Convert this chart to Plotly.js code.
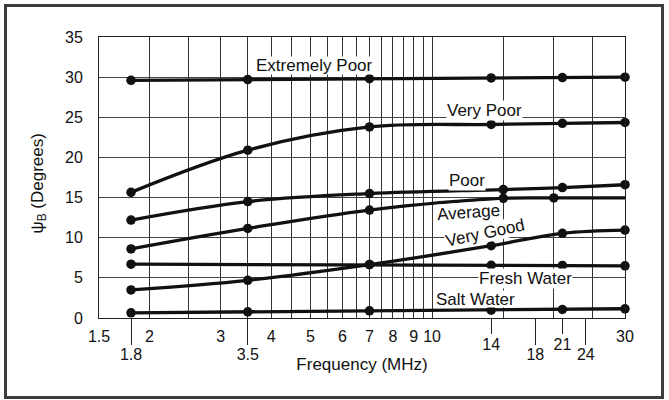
<!DOCTYPE html>
<html>
<head>
<meta charset="utf-8">
<script src="https://cdn.plot.ly/plotly-3.0.1.min.js"></script>
<style>
  html, body { margin: 0; padding: 0; background: #fff; }
  #chart { position: absolute; left: 0; top: 0; width: 669px; height: 400px; }
  #frame { position: absolute; left: 4px; top: 4px; width: 660px; height: 395px;
           border: 3px solid #3c3c3c; box-sizing: border-box; pointer-events: none; }
</style>
</head>
<body>
<div id="chart"></div>
<div id="frame"></div>
<script>
// ---- data ----
const freq          = [1.8, 3.5, 7, 14, 21, 30];
const extremelyPoor = [29.6, 29.7, 29.8, 29.9, 29.95, 30.0];
const veryPoor      = [15.65, 20.9, 23.8, 24.1, 24.25, 24.35];
const poorFreq      = [1.8, 3.5, 7, 15, 21, 30];
const poor          = [12.2, 14.5, 15.5, 16.0, 16.25, 16.6];
const averageFreq   = [1.8, 3.5, 7, 15, 20, 30];
const average       = [8.6, 11.15, 13.45, 14.9, 14.95, 14.95];
const veryGood      = [3.5, 4.7, 6.65, 9.0, 10.55, 10.95];
const freshFreq     = [1.8, 7, 14, 21, 30];
const freshWater    = [6.7, 6.65, 6.57, 6.55, 6.5];
const saltWater     = [0.65, 0.77, 0.9, 0.98, 1.06, 1.15];

const gridFreqs   = [2, 2.5, 3, 3.5, 4, 4.5, 5, 5.5, 6, 6.5, 7, 7.5, 8, 8.5, 9, 9.5, 10, 15, 20, 25];
const row1Ticks   = [1.5, 2, 3, 4, 5, 6, 7, 8, 9, 10, 30];
const row2Ticks   = [14, 21];
const row3Ticks   = [1.8, 3.5, 18, 24];
const yTicks      = [0, 5, 10, 15, 20, 25, 30, 35];

const curveLabels = ['Extremely Poor', 'Very Poor', 'Poor', 'Average', 'Very Good', 'Fresh Water', 'Salt Water'];
const yTitle = 'ψ<sub>B</sub> (Degrees)';
const xTitle = 'Frequency (MHz)';

// ---- styling ----
const FONT = 'Liberation Sans, Arial, Helvetica, sans-serif';
const INK = '#111';
const xr = [Math.log10(1.5), Math.log10(30)];

function curve(x, y, shape, sizes) {
  return {
    x: x, y: y, type: 'scatter', mode: 'lines+markers',
    line: { color: INK, width: 3.3, shape: shape || 'linear', smoothing: 1 },
    marker: { color: INK, size: sizes || 9.5, opacity: 1, line: { width: 0 } },
    hoverinfo: 'skip', showlegend: false, xaxis: 'x', yaxis: 'y', cliponaxis: false
  };
}

const traces = [
  curve(freq, extremelyPoor),
  curve(freq, veryPoor, 'spline'),
  curve(poorFreq, poor, 'spline'),
  curve(averageFreq, average, 'spline', averageFreq.map((f, i) => i === averageFreq.length - 1 ? 0 : 9.5)),
  curve(freq, veryGood, 'spline'),
  curve(freshFreq, freshWater),
  curve(freq, saltWater),
  { x: [], y: [], type: 'scatter', xaxis: 'x2', yaxis: 'y', showlegend: false },
  { x: [], y: [], type: 'scatter', xaxis: 'x3', yaxis: 'y', showlegend: false },
  { x: [], y: [], type: 'scatter', xaxis: 'x4', yaxis: 'y', showlegend: false }
];

const tickFont = { family: FONT, size: 16, color: '#111' };

function labelAxis(vals, len, standoff) {
  return {
    type: 'log', range: xr, overlaying: 'x', anchor: 'y', side: 'bottom',
    tickmode: 'array', tickvals: vals, ticktext: vals.map(String),
    ticks: len > 0 ? 'outside' : '', ticklen: len, tickwidth: 1, tickcolor: '#222',
    showgrid: false, zeroline: false, showline: false,
    tickfont: tickFont, ticklabelstandoff: standoff, fixedrange: true
  };
}

// label positions (paper fractions of plot area) and angle, box height
const labelPos = [
  [0.4106, 0.898, 0, 17],
  [0.732, 0.737, 0, null],
  [0.6996, 0.491, 0, null],
  [0.7029, 0.377, -4, null],
  [0.7338, 0.3025, -12, 18],
  [0.8099, 0.142, 0, null],
  [0.7158, 0.066, 0, 16]
];

const annotations = curveLabels.map((t, i) => {
  const a = {
    text: t, xref: 'paper', yref: 'paper', x: labelPos[i][0], y: labelPos[i][1],
    xanchor: 'center', yanchor: 'middle', showarrow: false, textangle: labelPos[i][2],
    font: { family: FONT, size: 17, color: '#111' }, bgcolor: '#fff', borderpad: 0
  };
  if (labelPos[i][3]) a.height = labelPos[i][3];
  return a;
});

// y-axis title, placed in the left margin
annotations.push({
  text: yTitle, xref: 'paper', yref: 'paper', x: -0.115, y: 0.477,
  xanchor: 'center', yanchor: 'middle', showarrow: false, textangle: -90,
  font: { family: FONT, size: 17, color: '#111' }
});

const layout = {
  width: 669, height: 400,
  margin: { l: 99, r: 44, t: 37, b: 82 },
  paper_bgcolor: '#fff', plot_bgcolor: '#fff',
  showlegend: false,
  xaxis: {
    type: 'log', range: xr, tickmode: 'array', tickvals: gridFreqs,
    showticklabels: false, ticks: '', showgrid: true, gridcolor: '#333', gridwidth: 1,
    showline: true, mirror: true, linecolor: '#222', linewidth: 1, zeroline: false,
    title: { text: xTitle, font: { family: FONT, size: 17, color: '#111' }, standoff: 40 },
    fixedrange: true
  },
  xaxis2: labelAxis(row1Ticks, 0, 7),
  xaxis3: labelAxis(row2Ticks, 15, -3),
  xaxis4: labelAxis(row3Ticks, 26, -4),
  yaxis: {
    range: [0, 35], tickmode: 'array', tickvals: yTicks, ticktext: yTicks.map(String),
    showgrid: true, gridcolor: '#444', gridwidth: 1, zeroline: false,
    showline: true, mirror: true, linecolor: '#222', linewidth: 1,
    ticks: 'outside', ticklen: 12, tickcolor: 'rgba(0,0,0,0)', tickfont: tickFont,
    fixedrange: true
  },
  annotations: annotations
};

Plotly.newPlot('chart', traces, layout, { staticPlot: true, displayModeBar: false });
</script>
</body>
</html>
